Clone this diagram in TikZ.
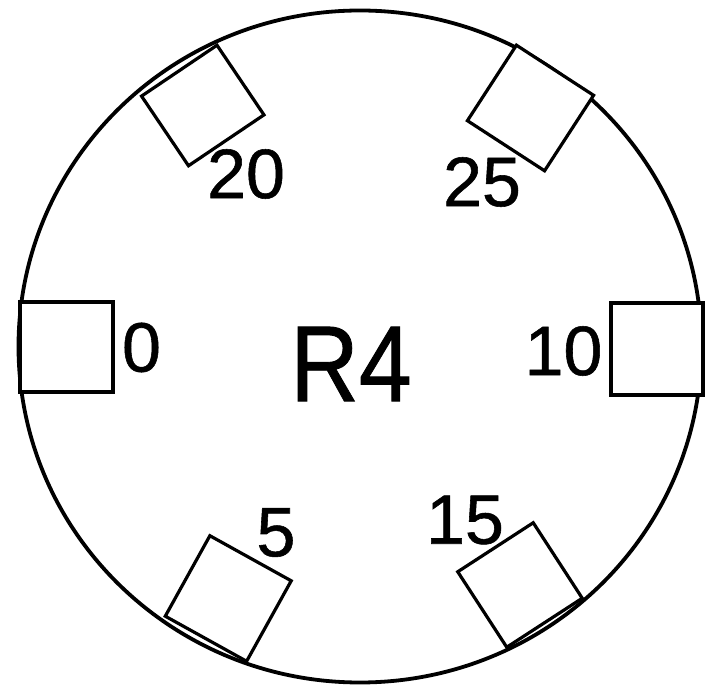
\documentclass[tikz,border=0pt]{standalone}
\usepackage{fontspec}
\setmainfont{Liberation Sans}[FakeBold=0.8]
\newfontfamily\heavyfont{Liberation Sans}[FakeBold=0.8]
\usetikzlibrary{shapes.geometric}
\begin{document}
\begin{tikzpicture}[x=1pt,y=-1pt,
  slot/.style={draw,line width=3.2pt,rectangle,inner sep=0pt,fill=white},
  lbl/.style={inner sep=0pt,font=\heavyfont\fontsize{70}{70}\selectfont},
  big/.style={inner sep=0pt,font=\heavyfont\fontsize{108}{108}\selectfont,xscale=0.88}]
\useasboundingbox (0,0) rectangle (705,692);
\node[draw,line width=3.8pt,ellipse,minimum width=683pt,minimum height=672pt,inner sep=0pt] (disc) at (360,346.5) {};
\node[slot,minimum width=93pt,minimum height=90pt] (s0) at (66.5,347) {};
\node[slot,minimum width=92pt,minimum height=92pt] (s10) at (657,349) {};
\node[slot,minimum width=91pt,minimum height=84pt,rotate=34] (s20) at (202.75,105.5) {};
\node[slot,minimum width=92pt,minimum height=90pt,rotate=-33] (s25) at (530.5,108) {};
\node[slot,minimum width=93pt,minimum height=92pt,rotate=-29] (s5) at (228.25,598.5) {};
\node[slot,minimum width=90pt,minimum height=90pt,rotate=33] (s15) at (520,585) {};
\node[lbl] (l0) at (141.5,347.5) {0};
\node[lbl] (l10) at (563.5,351) {10};
\node[lbl] (l20) at (246,174) {20};
\node[lbl] (l25) at (482,182) {25};
\node[lbl] (l5) at (276,532.5) {5};
\node[lbl] (l15) at (465,520) {15};
\node[big] (r4) at (351,364) {R4};
\end{tikzpicture}
\end{document}
